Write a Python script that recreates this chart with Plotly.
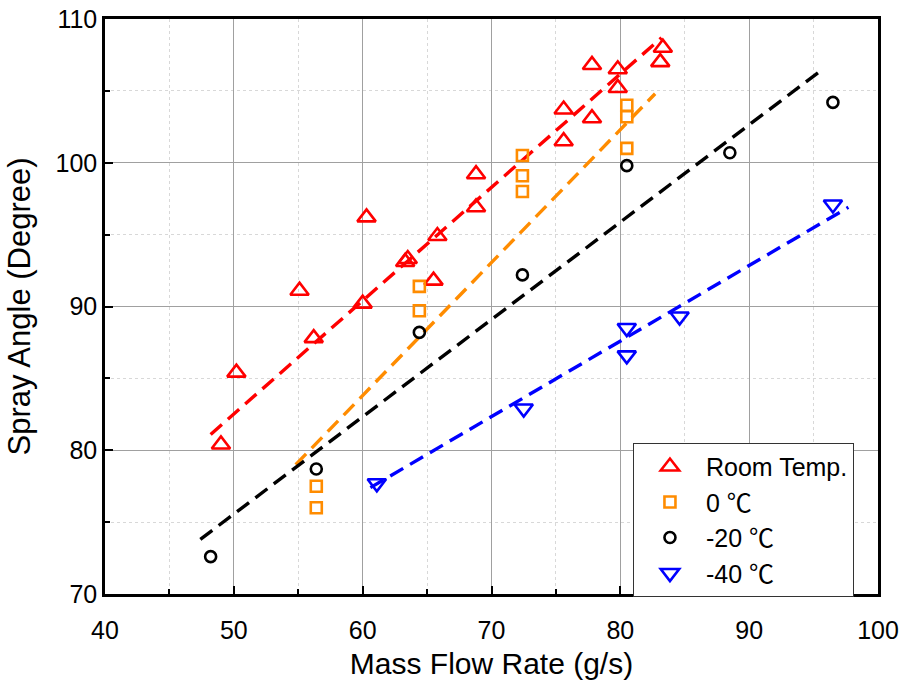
import plotly.graph_objects as go

# ---- data ----
room_x = [49.0, 50.2, 55.1, 56.2, 60.0, 60.3, 63.3, 63.5, 65.5, 65.8, 68.8, 68.8, 75.6, 75.6, 77.8, 77.8, 79.8, 79.8, 83.3, 83.1]
room_y = [80.4, 85.4, 91.1, 87.8, 90.2, 96.2, 93.1, 93.3, 91.8, 94.9, 99.2, 96.9, 103.7, 101.5, 106.8, 103.1, 106.5, 105.2, 108.0, 107.0]

zero_x = [56.4, 56.4, 64.4, 64.4, 72.4, 72.4, 72.4, 80.5, 80.5, 80.5]
zero_y = [76.0, 77.5, 89.7, 91.4, 98.0, 99.1, 100.5, 101.0, 103.2, 104.0]

m20_x = [48.2, 56.4, 64.4, 72.4, 80.5, 88.5, 96.5]
m20_y = [72.6, 78.7, 88.2, 92.2, 99.8, 100.7, 104.2]

m40_x = [61.1, 72.5, 80.5, 80.5, 84.6, 96.5]
m40_y = [77.7, 82.9, 86.6, 88.5, 89.3, 97.1]

# fitted trend lines (endpoints)
room_fit_x = [48.2, 83.2]
room_fit_y = [81.1, 108.7]
zero_fit_x = [54.8, 82.7]
zero_fit_y = [79.0, 104.8]
m20_fit_x = [47.4, 95.7]
m20_fit_y = [73.8, 106.5]
m40_fit_x = [60.6, 97.7]
m40_fit_y = [77.4, 96.9]

names = ["Room Temp.", "0 \u2103", "-20 \u2103", "-40 \u2103"]
colors = ["#ff0000", "#ff8c00", "#000000", "#0000ff"]
symbols = ["triangle-up-open", "square-open", "circle-open", "triangle-down-open"]
sizes = [16, 11, 11, 16]

xs = [room_x, zero_x, m20_x, m40_x]
ys = [room_y, zero_y, m20_y, m40_y]
fxs = [room_fit_x, zero_fit_x, m20_fit_x, m40_fit_x]
fys = [room_fit_y, zero_fit_y, m20_fit_y, m40_fit_y]

FONT = "Liberation Sans, Arial, Noto Sans CJK KR"

fig = go.Figure()
for fx, fy, c in zip(fxs, fys, colors):
    fig.add_trace(go.Scatter(x=fx, y=fy, mode="lines", showlegend=False,
                             line=dict(color=c, width=3.4, dash="15px,8px")))
for x, y, n, c, s, sz in zip(xs, ys, names, colors, symbols, sizes):
    fig.add_trace(go.Scatter(x=x, y=y, mode="markers", name=n,
                             marker=dict(symbol=s, size=sz, color=c,
                                         line=dict(color=c, width=2.6))))

axis_common = dict(
    showline=True, linecolor="black", linewidth=2.5, mirror=True,
    ticks="inside", ticklen=8, tickwidth=2, tickcolor="black",
    showgrid=True, gridcolor="#a0a0a0", gridwidth=1,
    zeroline=False, automargin=False,
    tickfont=dict(family=FONT, size=25, color="black"),
)

fig.update_xaxes(range=[40, 100], dtick=10, tick0=40, ticklabelstandoff=12,
                 minor=dict(dtick=5, showgrid=True, gridcolor="#d8d8d8", griddash="dot",
                            ticks="inside", ticklen=5, tickwidth=1.5, tickcolor="black"),
                 title=dict(text="Mass Flow Rate (g/s)",
                            font=dict(family=FONT, size=30, color="black"),
                            standoff=11),
                 **axis_common)
fig.update_yaxes(range=[70, 110], dtick=10, tick0=70,
                 minor=dict(dtick=5, showgrid=True, gridcolor="#d8d8d8", griddash="dot",
                            ticks="inside", ticklen=5, tickwidth=1.5, tickcolor="black"),
                 title=dict(text="Spray Angle (Degree)",
                            font=dict(family=FONT, size=31, color="black"),
                            standoff=16),
                 **axis_common)

fig.update_layout(
    width=902, height=682,
    margin=dict(l=105, r=24, t=19, b=88),
    plot_bgcolor="white", paper_bgcolor="white",
    legend=dict(x=0.683, y=0.263, xanchor="left", yanchor="top",
                bgcolor="white", bordercolor="#333333", borderwidth=1,
                font=dict(family=FONT, size=25, color="black"),
                itemwidth=62, tracegroupgap=0),
)

# remove the browser's default 8px body margin so the figure fills the window
fig.write_html("out.html",
               config={"displayModeBar": False},
               post_script="document.body.style.margin='0';document.body.style.overflow='hidden';")
